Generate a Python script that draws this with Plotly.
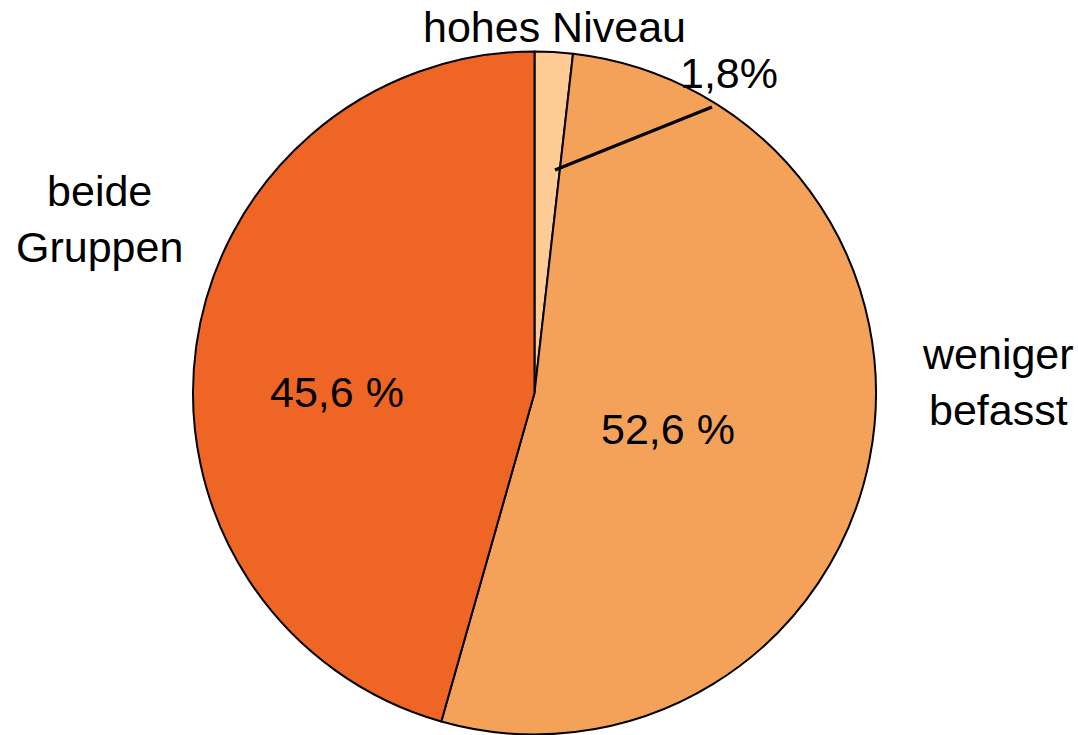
import plotly.graph_objects as go

W, H = 1078, 735

labels = ["hohes Niveau", "weniger befasst", "beide Gruppen"]
values = [1.8, 52.6, 45.6]
colors = ["#FECA96", "#F4A259", "#EF6526"]

# label texts and their pixel centres (in target image)
label_texts = ["hohes Niveau", "1,8%", "beide<br>Gruppen", "weniger<br>befasst", "45,6 %", "52,6 %"]
label_px = [(554, 27), (729, 73), (100, 219), (998, 382), (337, 392), (668, 429)]

# pie geometry in pixels (target image)
cx, cy, r = 534.5, 393, 341.5


def px2paper(px, py):
    return px / W, 1 - py / H


x0p, y1p = px2paper(cx - r, cy - r)
x1p, y0p = px2paper(cx + r, cy + r)

fig = go.Figure(go.Pie(
    labels=labels,
    values=values,
    sort=False,
    direction="clockwise",
    rotation=0,
    marker=dict(colors=colors, line=dict(color="black", width=2)),
    textinfo="none",
    hoverinfo="label+percent",
    showlegend=False,
    domain=dict(x=[x0p, x1p], y=[y0p, y1p]),
))

for t, (px, py) in zip(label_texts, label_px):
    ax, ay = px2paper(px, py)
    fig.add_annotation(text=t, x=ax, y=ay, xref="paper", yref="paper",
                       showarrow=False, xanchor="center", yanchor="middle",
                       font=dict(family="Liberation Sans, Arial", size=43, color="black"))

# leader line for 1,8%
lx0, ly0 = px2paper(555, 170)
lx1, ly1 = px2paper(712, 107)
fig.add_shape(type="line", xref="paper", yref="paper",
              x0=lx0, y0=ly0, x1=lx1, y1=ly1,
              line=dict(color="black", width=3.5))

fig.update_layout(width=W, height=H, margin=dict(l=0, r=0, t=0, b=0),
                  paper_bgcolor="white", plot_bgcolor="white")
fig.write_html("out.html", config={"displayModeBar": False},
               post_script="document.body.style.margin='0';")
